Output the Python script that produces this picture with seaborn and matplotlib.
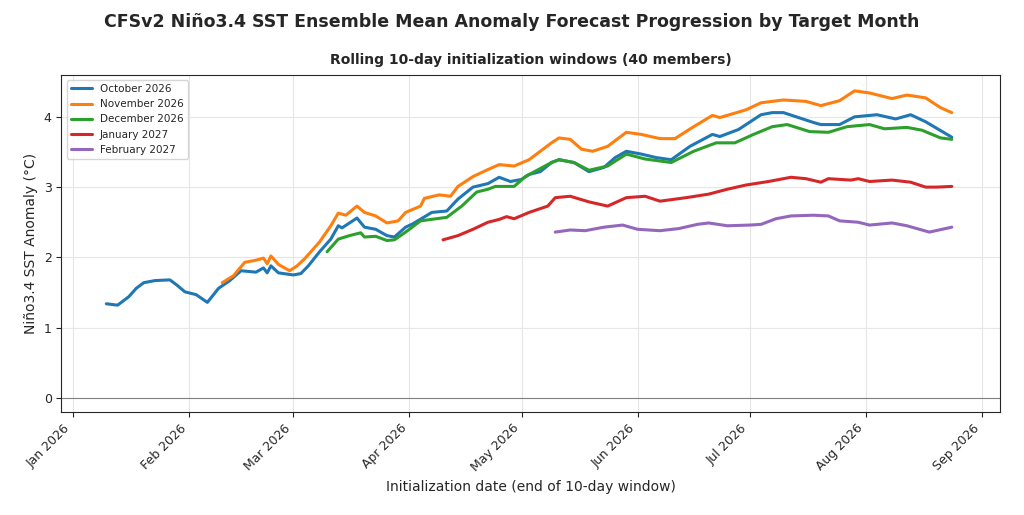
import pandas as pd
import numpy as np
import matplotlib
matplotlib.use("Agg")
import matplotlib.pyplot as plt
import matplotlib.dates as mdates
import seaborn as sns

# values (date, anomaly in degC)
oct_dates = ["01-10","01-13","01-16","01-18","01-20","01-23","01-27","01-29","01-31","02-03","02-06","02-09","02-12","02-15","02-19","02-21","02-22","02-23","02-25","03-01","03-03","03-05","03-08","03-11","03-13","03-14","03-18","03-20","03-23","03-26","03-28","03-31","04-02","04-07","04-11","04-14","04-18","04-22","04-25","04-28","05-01","05-03","05-06","05-09","05-11","05-15","05-19","05-23","05-26","05-29","06-02","06-06","06-10","06-15","06-21","06-23","06-28","07-04","07-07","07-10","07-14","07-18","07-20","07-25","07-29","08-04","08-09","08-13","08-17","08-24"]
oct_vals = [1.34,1.32,1.44,1.56,1.64,1.67,1.68,1.60,1.51,1.47,1.36,1.56,1.67,1.81,1.79,1.85,1.78,1.88,1.78,1.75,1.77,1.88,2.08,2.26,2.45,2.42,2.56,2.43,2.40,2.31,2.29,2.43,2.48,2.64,2.66,2.83,3.00,3.05,3.14,3.08,3.11,3.18,3.22,3.35,3.39,3.35,3.22,3.28,3.42,3.51,3.47,3.42,3.39,3.58,3.75,3.72,3.82,4.03,4.06,4.06,3.99,3.92,3.89,3.89,4.00,4.03,3.97,4.03,3.93,3.71]

nov_dates = ["02-10","02-13","02-16","02-19","02-21","02-22","02-23","02-25","02-28","03-02","03-04","03-08","03-11","03-13","03-15","03-18","03-20","03-23","03-26","03-29","03-31","04-04","04-05","04-09","04-12","04-14","04-18","04-22","04-25","04-29","05-03","05-09","05-11","05-14","05-17","05-20","05-24","05-29","06-02","06-07","06-11","06-16","06-21","06-23","06-30","07-04","07-10","07-16","07-20","07-25","07-29","08-02","08-08","08-12","08-17","08-21","08-24"]
nov_vals = [1.64,1.74,1.93,1.96,1.99,1.91,2.02,1.90,1.81,1.88,1.98,2.22,2.45,2.63,2.60,2.73,2.64,2.59,2.49,2.52,2.64,2.73,2.84,2.89,2.87,3.01,3.15,3.25,3.32,3.30,3.39,3.63,3.70,3.68,3.54,3.51,3.58,3.78,3.75,3.69,3.69,3.86,4.02,3.99,4.10,4.20,4.24,4.22,4.16,4.23,4.37,4.34,4.26,4.31,4.27,4.13,4.06]

dec_dates = ["03-10","03-13","03-16","03-19","03-20","03-23","03-26","03-28","03-31","04-04","04-11","04-15","04-19","04-22","04-24","04-29","05-02","05-09","05-11","05-15","05-19","05-24","05-29","06-03","06-10","06-16","06-22","06-27","07-02","07-07","07-11","07-17","07-22","07-27","08-02","08-06","08-12","08-16","08-21","08-24"]
dec_vals = [2.08,2.26,2.31,2.35,2.29,2.30,2.24,2.25,2.36,2.52,2.57,2.73,2.93,2.97,3.01,3.01,3.15,3.35,3.39,3.35,3.24,3.30,3.47,3.40,3.35,3.51,3.63,3.63,3.75,3.86,3.89,3.79,3.78,3.86,3.89,3.83,3.85,3.81,3.70,3.68]

jan_dates = ["04-10","04-14","04-18","04-22","04-25","04-27","04-29","05-03","05-08","05-10","05-14","05-19","05-24","05-29","06-03","06-07","06-14","06-20","06-25","06-30","07-06","07-12","07-16","07-20","07-22","07-28","07-30","08-02","08-08","08-13","08-17","08-20","08-24"]
jan_vals = [2.25,2.31,2.40,2.50,2.54,2.58,2.55,2.64,2.73,2.85,2.87,2.79,2.73,2.85,2.87,2.80,2.85,2.90,2.97,3.03,3.08,3.14,3.12,3.07,3.12,3.10,3.12,3.08,3.10,3.07,3.00,3.00,3.01]

feb_dates = ["05-10","05-14","05-18","05-23","05-28","06-01","06-07","06-12","06-17","06-20","06-25","07-01","07-04","07-08","07-12","07-18","07-22","07-25","07-30","08-02","08-08","08-12","08-18","08-24"]
feb_vals = [2.36,2.39,2.38,2.43,2.46,2.40,2.38,2.41,2.47,2.49,2.45,2.46,2.47,2.55,2.59,2.60,2.59,2.52,2.50,2.46,2.49,2.45,2.36,2.43]

series = [("October 2026", oct_dates, oct_vals),
          ("November 2026", nov_dates, nov_vals),
          ("December 2026", dec_dates, dec_vals),
          ("January 2027", jan_dates, jan_vals),
          ("February 2027", feb_dates, feb_vals)]

frames = []
for name, d, v in series:
    frames.append(pd.DataFrame({"date": pd.to_datetime(["2026-" + s for s in d]), "anom": v, "target": name}))
df = pd.concat(frames, ignore_index=True)

sns.set_style("ticks")
fig, ax = plt.subplots(figsize=(10.24, 5.15), dpi=100)
colors = ["#1f77b4", "#ff7f0e", "#2ca02c", "#d62728", "#9467bd"]
sns.lineplot(data=df, x="date", y="anom", hue="target", palette=colors, linewidth=2.2, ax=ax)

ax.axhline(0, color="gray", linewidth=0.8)
ax.grid(True, color="#e6e6e6", linewidth=0.8)
ax.set_ylim(-0.2, 4.6)
ax.set_yticks([0, 1, 2, 3, 4])
ax.set_xlim(pd.Timestamp("2025-12-29"), pd.Timestamp("2026-09-06"))
ax.xaxis.set_major_locator(mdates.MonthLocator())
ax.xaxis.set_major_formatter(mdates.DateFormatter("%b %Y"))
plt.setp(ax.get_xticklabels(), rotation=45, ha="right")
ax.set_xlabel("Initialization date (end of 10-day window)", fontsize=10)
ax.set_ylabel("Niño3.4 SST Anomaly (°C)", fontsize=10)
ax.tick_params(labelsize=9)
ax.legend(loc="upper left", fontsize=7.5, title=None)

fig.suptitle("CFSv2 Niño3.4 SST Ensemble Mean Anomaly Forecast Progression by Target Month",
             fontsize=12.5, fontweight="bold", y=0.975)
ax.set_title("Rolling 10-day initialization windows (40 members)", fontsize=10, fontweight="bold", pad=8)

plt.subplots_adjust(left=0.06, right=0.977, top=0.855, bottom=0.2)
plt.savefig("out.png", dpi=100)
